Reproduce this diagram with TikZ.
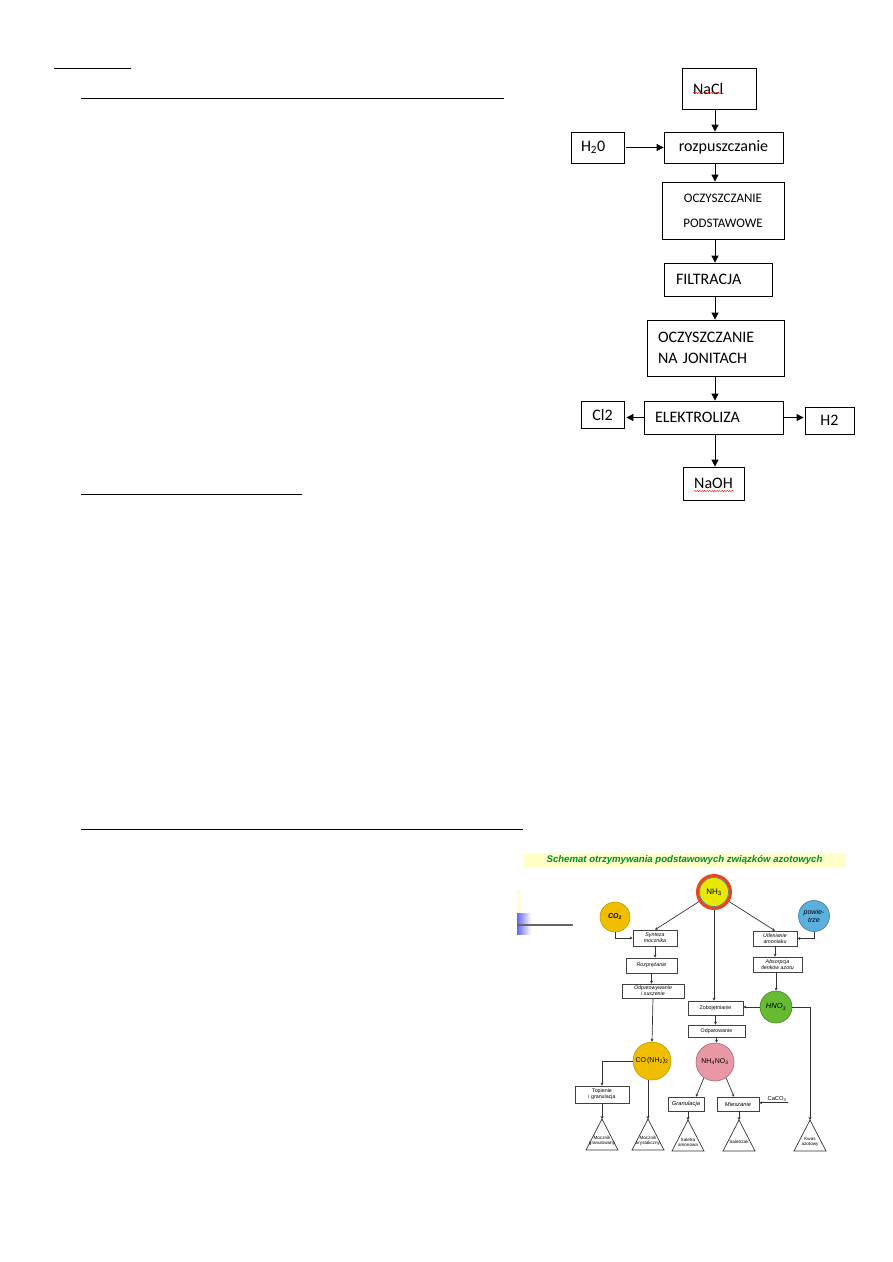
\documentclass[tikz,border=0pt]{standalone}
\usepackage{fontspec}
\setmainfont{Carlito}
\newfontfamily\arialfont{Liberation Sans}
\usetikzlibrary{arrows.meta,decorations.pathmorphing}

\definecolor{mocznik}{RGB}{240,190,0}
\definecolor{saletra}{RGB}{232,152,164}
\definecolor{kwas}{RGB}{102,187,51}
\definecolor{powietrze}{RGB}{91,176,221}
\definecolor{amoniak}{RGB}{232,232,0}
\definecolor{obwodka}{RGB}{228,72,30}
\definecolor{tlo}{RGB}{255,255,200}
\definecolor{tytul}{RGB}{0,140,40}

\tikzset{
  blok/.style={draw, line width=0.8pt, inner sep=0pt, font=\fontsize{16}{19}\selectfont},
  strzalka/.style={-{Triangle[length=7pt,width=7pt]}, line width=0.8pt},
  etap/.style={draw=black!75, fill=white, line width=0.6pt, inner sep=0pt, align=center,
    font=\arialfont\fontsize{5.3}{6}\selectfont},
  kolo/.style={circle, inner sep=0pt, line width=0.6pt, font=\arialfont\fontsize{7}{8}\selectfont},
  linia/.style={draw=black!80, line width=0.7pt, -{Stealth[length=3pt,width=3pt]}},
  falka/.style={red, line width=0.4pt, decorate, decoration={snake, amplitude=0.6pt, segment length=2.5pt}}
}

\newcommand{\produkt}[3]{%
  \draw[black!80, line width=0.7pt] (#1) -- ++(-16,31) -- ++(32,0) -- cycle;
  \node[font=\arialfont\fontsize{4.6}{5.2}\selectfont, align=center, inner sep=0pt] (#2) at ([yshift=-22pt]#1) {#3};}

\begin{document}
\begin{tikzpicture}[x=1pt, y={(0,-1pt)}]
\useasboundingbox[fill=white] (0,0) rectangle (893,1262);

% podkreslenia
\draw[line width=1pt] (54,68) -- (131,68);
\draw[line width=1pt] (81,98) -- (504,98);
\draw[line width=1pt] (81,494) -- (302,494);
\draw[line width=1pt] (81,829) -- (523,829);

% otrzymywanie NaOH
\coordinate (os) at (715,0);
\node[blok, minimum width=74pt, minimum height=41pt, text width=52pt, inner xsep=11pt, align=left] (nacl) at (719,88.5) {NaCl};
\node[blok, minimum width=119pt, minimum height=31pt] (rozp) at (723.5,147.5) {rozpuszczanie};
\node[blok, minimum width=53pt, minimum height=31pt, text width=33pt, inner xsep=10pt, align=left] (h2o) at (597.5,147.5) {H\textsubscript{2}0};
\node[blok, minimum width=122pt, minimum height=57pt, align=center, font=\fontsize{13}{25}\selectfont] (oczpod) at (723,210.5) {OCZYSZCZANIE\\PODSTAWOWE};
\node[blok, minimum width=108pt, minimum height=33pt, text width=84pt, inner xsep=12pt, align=left] (filtr) at (718,279.5) {FILTRACJA};
\node[blok, minimum width=137pt, minimum height=56pt, text width=115pt, inner xsep=11pt, align=left, font=\fontsize{16}{21}\selectfont] (jonit) at (715.5,348) {OCZYSZCZANIE\\NA JONITACH};
\node[blok, minimum width=139pt, minimum height=33pt, text width=117pt, inner xsep=11pt, align=left] (elek) at (713.5,417.5) {ELEKTROLIZA};
\node[blok, minimum width=43pt, minimum height=27pt] (cl2) at (602.5,414.5) {Cl2};
\node[blok, minimum width=49pt, minimum height=27pt] (h2) at (829.5,420.5) {H2};
\node[blok, minimum width=61pt, minimum height=33pt] (naoh) at (713.5,483.5) {NaOH};

\foreach \a/\b in {nacl/rozp, rozp/oczpod, oczpod/filtr, filtr/jonit, jonit/elek, elek/naoh}
  \draw[strzalka] (\a.south -| os) -- (\b.north -| os);
\draw[strzalka, shorten <=2pt] (h2o.east) -- (h2o.east -| rozp.west);
\draw[strzalka, shorten >=2pt] (elek.west) -- (elek.west -| cl2.east);
\draw[strzalka, shorten >=1pt] (elek.east) -- (elek.east -| h2.west);

% podkreslenia pisowni
\draw[falka] (693,93) -- (724,93);
\draw[falka] (694,491) -- (734,491);

% schemat zwiazkow azotowych
\node[fill=tlo, minimum width=323pt, minimum height=14pt, inner sep=0pt, text=tytul,
  font=\arialfont\bfseries\itshape\fontsize{9.6}{11}\selectfont] (naglowek) at (684.5,860)
  {Schemat otrzymywania podstawowych związków azotowych};
\shade[left color=blue!60, right color=white] (517,913) rectangle (531,934);
\fill[yellow!15] (517,890) rectangle (521,913);
\draw[black!60, line width=1.2pt] (517,925) -- (573,925);

\node[kolo, fill=amoniak, draw=cyan!70!blue, minimum size=29pt, font=\arialfont\fontsize{8}{9}\selectfont] (nh3) at (714,892) {NH\textsubscript{3}};
\node[kolo, fill=mocznik, draw=mocznik!80!black, minimum size=30pt, font=\arialfont\bfseries\itshape\fontsize{7}{8}\selectfont] (co2) at (615,917) {CO\textsubscript{2}};
\node[kolo, fill=powietrze, draw=powietrze!70!black, minimum size=31pt, align=center, font=\arialfont\itshape\fontsize{7}{8.5}\selectfont] (pow) at (814,916) {powie-\\trze};
\node[kolo, fill=kwas, draw=kwas!70!black, minimum size=32pt, font=\arialfont\itshape\fontsize{7.5}{8}\selectfont] (hno3) at (776,1007) {HNO\textsubscript{3}};
\node[kolo, fill=mocznik, draw=mocznik!80!black, minimum size=38pt] (mocz) at (652,1061) {CO\,(NH\textsubscript{2})\textsubscript{2}};
\node[kolo, fill=saletra, draw=saletra!70!black, minimum size=38pt] (azotan) at (715,1062) {NH\textsubscript{4}NO\textsubscript{3}};

\node[etap, minimum width=44pt, minimum height=16pt, font=\arialfont\itshape\fontsize{5.3}{6}\selectfont] (synteza) at (655,938) {Synteza\\mocznika};
\node[etap, minimum width=51pt, minimum height=15pt, font=\arialfont\itshape\fontsize{5.3}{6}\selectfont] (rozpr) at (651.5,965.5) {Rozprężanie};
\node[etap, minimum width=62pt, minimum height=14pt, font=\arialfont\itshape\fontsize{5.3}{6}\selectfont] (odpar) at (653,991) {Odparowywanie\\i suszenie};
\node[etap, minimum width=54pt, minimum height=17pt] (topien) at (602,1094.5) {Topienie\\i granulacja};
\node[etap, minimum width=55pt, minimum height=14pt] (zobo) at (715.5,1008) {Zobojętnianie};
\node[etap, minimum width=57pt, minimum height=12pt] (odparow) at (716.5,1031) {Odparowanie};
\node[etap, minimum width=36pt, minimum height=14pt, font=\arialfont\itshape\fontsize{5.8}{6}\selectfont] (granul) at (686,1104) {Granulacja};
\node[etap, minimum width=42pt, minimum height=14pt, font=\arialfont\itshape\fontsize{5.8}{6}\selectfont] (miesz) at (738,1104) {Mieszanie};
\node[etap, minimum width=44pt, minimum height=15pt, font=\arialfont\itshape\fontsize{5.3}{6}\selectfont] (utlen) at (775,938.5) {Utlenianie\\amoniaku};
\node[etap, minimum width=49pt, minimum height=15pt, font=\arialfont\itshape\fontsize{5.3}{6}\selectfont] (absorp) at (777.5,964.5) {Absorpcja\\tlenków azotu};
\node[font=\arialfont\fontsize{5.8}{6}\selectfont, inner sep=1pt] (caco3) at (777,1099) {CaCO\textsubscript{3}};

\coordinate (mg) at (602,1119);
\coordinate (mk) at (648,1119);
\coordinate (sa) at (688,1120);
\coordinate (sz) at (739,1120);
\coordinate (ka) at (810,1120);
\produkt{mg}{mg-t}{Mocznik\\granulowany}
\produkt{mk}{mk-t}{Mocznik\\krystaliczny}
\produkt{sa}{sa-t}{Saletra\\amonowa}
\produkt{sz}{sz-t}{Saletrzak}
\produkt{ka}{ka-t}{Kwas\\azotowy}

\draw[linia] (nh3) -- (synteza.north);
\draw[linia] (nh3) -- (utlen.north);
\draw[linia] (nh3) -- (nh3 |- zobo.north);
\draw[linia] (co2) |- (synteza);
\draw[linia] (pow) |- (utlen);
\draw[linia] (synteza.south) -- (synteza.south |- rozpr.north);
\draw[linia] (rozpr.south) -- (rozpr.south |- odpar.north);
\draw[linia] (odpar.south) -- (mocz.north);
\draw[linia] (mocz.west) -| (topien.north);
\draw[linia] (topien.south) -- (mg);
\draw[linia] (mk |- mocz.south) -- (mk);
\draw[linia] (utlen.south) -- (utlen.south |- absorp.north);
\draw[linia] (absorp.south -| hno3) -- (hno3.north);
\draw[linia] (hno3) -- (hno3 -| zobo.east);
\draw[linia] (hno3.east) -| (ka);
\draw[linia] (zobo.south) -- (zobo.south |- odparow.north);
\draw[linia] (odparow.south) -- (odparow.south |- azotan.north);
\draw[linia] (azotan.235) -- ([xshift=10pt]granul.north);
\draw[linia] (azotan.305) -- ([xshift=-4pt]miesz.north);
\draw[linia] (caco3.south east) -- (caco3.south east -| miesz.east);
\draw[linia] (granul.south -| sa) -- (sa);
\draw[linia] (miesz.south -| sz) -- (sz);
\draw[obwodka, line width=3.2pt] (nh3) circle (16.4);
\end{tikzpicture}
\end{document}
